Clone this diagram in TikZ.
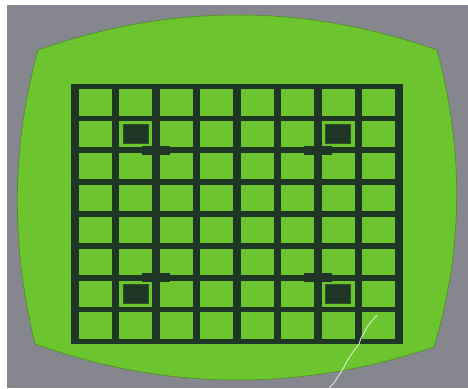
\documentclass[tikz,border=0pt]{standalone}
\usepackage{tikz}
\definecolor{bggray}{HTML}{85868E}
\definecolor{screen}{HTML}{6CC42E}
\definecolor{screenedge}{HTML}{4E8E22}
\definecolor{griddark}{HTML}{1F3626}
\definecolor{crack}{HTML}{D6EDD2}
\tikzset{
  gridbar/.style={fill=griddark, draw=none},
  marksq/.style={fill=griddark, draw=griddark!80!screen, line width=0.8pt},
  markbar/.style={fill=griddark, draw=none},
}
\begin{document}
\begin{tikzpicture}[x=1pt,y=-1pt]
\useasboundingbox (0,0) rectangle (468,388);
\fill[white] (0,0) rectangle (468,388);
\fill[bggray] (7,5) rectangle (468,388);
% screen
\filldraw[fill=screen, draw=screenedge, line width=0.6pt]
  (38,50) .. controls (171,3.3) and (304,3.3) .. (437,50)
  .. controls (463.7,149) and (463.7,248) .. (434,347)
  .. controls (301,391.5) and (168,391.5) .. (35,344)
  .. controls (11,246) and (11,148) .. (38,50) -- cycle;
% grid vertical
\foreach \i in {0,...,8} {
  \pgfmathsetmacro{\cx}{75+40.5*\i}
  \fill[gridbar] (\cx-3.6,84) rectangle (\cx+3.6,344);
}
% grid horizontal
\foreach \j in {0,...,8} {
  \pgfmathsetmacro{\cy}{86.5+31.875*\j}
  \fill[gridbar] (71.4,\cy-2.8) rectangle (402.6,\cy+2.8);
}
% marker squares
\foreach \cx/\cy in {135.75/134.3, 338.25/134.3, 135.75/293.7, 338.25/293.7} {
  \filldraw[marksq] (\cx-12.5,\cy-9.5) rectangle (\cx+12.5,\cy+9.5);
}
% marker bars
\foreach \cx/\cy in {156/150.25, 318/150.25, 156/277.75, 318/277.75} {
  \fill[markbar] (\cx-14,\cy-4.5) rectangle (\cx+14,\cy+4.5);
}
% crack
\draw[crack, line width=0.9pt, line join=round]
  (377,315) -- (371,322) -- (367,327) -- (364,333) -- (361,338) -- (359,344)
  -- (355,349) -- (351,355) -- (347,361) -- (344,367) -- (341,372) -- (337,378) -- (334,383) -- (329,388);
\end{tikzpicture}
\end{document}
